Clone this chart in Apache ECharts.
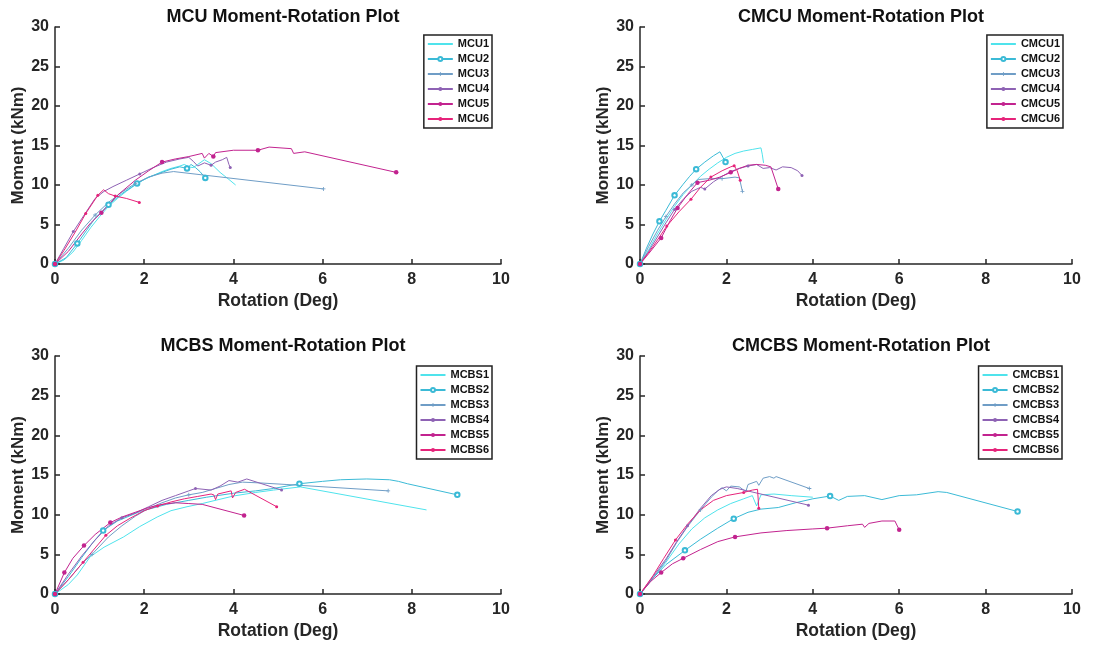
<!DOCTYPE html>
<html><head><meta charset="utf-8">
<script src="https://cdn.jsdelivr.net/npm/echarts@6/dist/echarts.min.js"></script>
<style>html,body{margin:0;padding:0;background:#fff}#c{width:1099px;height:646px}</style>
</head><body><div id="c"></div><script>
// ---------- data ----------
const titles = ['MCU Moment-Rotation Plot','CMCU Moment-Rotation Plot','MCBS Moment-Rotation Plot','CMCBS Moment-Rotation Plot'];
const xName = 'Rotation (Deg)';
const yName = 'Moment (kNm)';

const MCU1 = [[0,0],[0.2,0.5],[0.4,1.5],[0.6,3.0],[0.8,4.6],[1.0,6.0],[1.2,7.3],[1.4,8.3],[1.6,9.2],[1.8,10.0],[2.0,10.7],[2.2,11.2],[2.4,11.7],[2.6,12.1],[2.8,12.4],[2.9,12.6],[3.0,12.3],[3.1,12.2],[3.2,12.6],[3.35,13.2],[3.5,12.7],[3.7,11.6],[3.9,10.7],[4.05,10.0]];
const MCU2 = [[0,0],[0.25,0.8],[0.5,2.6],[0.7,4.2],[0.9,5.8],[1.2,7.5],[1.5,8.9],[1.84,10.2],[2.1,11.0],[2.4,11.6],[2.6,12.0],[2.8,12.3],[2.96,12.1],[3.05,12.6],[3.15,12.2],[3.25,11.7],[3.37,10.9]];
const MCU3 = [[0,0],[0.3,2.0],[0.6,4.3],[0.9,6.2],[1.2,7.8],[1.5,9.1],[1.8,10.2],[2.1,11.0],[2.4,11.5],[2.66,11.7],[6.02,9.5]];
const MCU4 = [[0,0],[0.2,2.0],[0.41,4.1],[0.7,6.6],[0.9,8.3],[1.1,9.2],[1.3,9.8],[1.6,10.6],[1.9,11.4],[2.2,12.2],[2.5,12.9],[2.8,13.3],[3.0,13.5],[3.1,13.0],[3.2,12.4],[3.35,12.8],[3.5,12.5],[3.6,12.9],[3.75,13.2],[3.85,13.5],[3.9,12.6],[3.93,12.2]];
const MCU5 = [[0,0],[0.3,1.6],[0.6,3.8],[0.8,5.2],[1.04,6.5],[1.4,8.7],[1.8,10.6],[2.1,11.8],[2.4,12.9],[2.7,13.3],[3.0,13.6],[3.3,14.0],[3.35,13.4],[3.45,14.0],[3.55,13.6],[3.6,14.1],[4.0,14.4],[4.55,14.4],[4.8,14.8],[5.3,14.6],[5.35,14.0],[5.6,14.2],[7.65,11.6]];
const MCU6 = [[0,0],[0.2,1.7],[0.45,4.0],[0.69,6.4],[0.96,8.7],[1.09,9.4],[1.2,8.9],[1.35,8.6],[1.6,8.3],[1.89,7.8]];

const CMCU1 = [[0,0],[0.2,1.8],[0.4,3.8],[0.6,5.6],[0.8,7.3],[1.0,8.8],[1.2,10.0],[1.4,11.1],[1.6,12.0],[1.8,12.8],[2.0,13.5],[2.2,14.0],[2.4,14.3],[2.6,14.5],[2.8,14.7],[2.83,13.9],[2.86,12.8]];
const CMCU2 = [[0,0],[0.15,2.0],[0.3,3.8],[0.45,5.4],[0.6,6.8],[0.8,8.7],[1.0,10.1],[1.15,11.1],[1.3,12.0],[1.5,12.9],[1.7,13.7],[1.85,14.2],[1.92,13.5],[1.98,12.9]];
const CMCU3 = [[0,0],[0.2,2.2],[0.4,4.2],[0.6,6.0],[0.8,7.6],[1.0,9.0],[1.2,10.0],[1.35,10.7],[1.6,10.8],[1.9,10.8],[2.2,11.0],[2.3,10.9],[2.37,9.2]];
const CMCU4 = [[0,0],[0.2,1.6],[0.4,3.4],[0.6,5.2],[0.8,6.9],[1.0,8.2],[1.2,9.2],[1.4,9.7],[1.5,9.5],[1.7,10.4],[1.9,11.1],[2.1,11.7],[2.3,12.1],[2.5,12.4],[2.7,12.6],[2.85,12.1],[3.0,12.2],[3.15,11.9],[3.3,12.3],[3.5,12.2],[3.65,11.8],[3.75,11.2]];
const CMCU5 = [[0,0],[0.2,1.3],[0.49,3.3],[0.7,5.5],[0.87,7.1],[1.1,8.8],[1.33,10.3],[1.6,10.6],[1.85,11.0],[2.1,11.6],[2.3,12.1],[2.5,12.5],[2.7,12.6],[2.9,12.5],[3.03,12.3],[3.2,9.5]];
const CMCU6 = [[0,0],[0.3,2.2],[0.62,4.8],[0.9,6.6],[1.18,8.2],[1.4,9.7],[1.64,11.0],[1.9,11.8],[2.1,12.3],[2.18,12.45],[2.25,11.8],[2.32,10.6]];

const MCBS1 = [[0,0],[0.3,1.2],[0.5,2.4],[0.79,4.7],[1.1,5.9],[1.54,7.2],[1.9,8.5],[2.29,9.7],[2.6,10.5],[2.96,11.0],[3.3,11.4],[3.63,11.85],[4.0,12.35],[4.5,12.8],[4.9,13.1],[5.5,13.5],[8.33,10.6]];
const MCBS2 = [[0,0],[0.3,2.2],[0.6,4.6],[0.85,6.5],[1.08,8.0],[1.4,9.2],[1.91,10.4],[2.5,11.3],[3.0,11.8],[3.4,12.2],[4.0,12.7],[4.5,13.0],[4.9,13.3],[5.48,13.9],[6.0,14.2],[6.4,14.4],[6.99,14.5],[7.5,14.4],[7.7,14.2],[7.9,13.9],[9.02,12.5]];
const MCBS3 = [[0,0],[0.3,1.8],[0.6,3.8],[0.83,5.0],[1.2,7.2],[1.5,8.6],[1.8,9.8],[2.1,10.8],[2.4,11.5],[2.7,12.1],[3.0,12.5],[3.3,12.8],[3.6,13.3],[3.9,13.8],[4.2,14.1],[4.6,14.0],[5.2,13.8],[7.47,13.0]];
const MCBS4 = [[0,0],[0.3,2.5],[0.6,4.8],[0.9,6.8],[1.2,8.6],[1.5,9.6],[1.8,10.2],[2.1,11.0],[2.4,11.8],[2.7,12.4],[3.0,13.0],[3.15,13.3],[3.5,13.1],[3.7,13.6],[3.9,14.3],[4.1,14.1],[4.3,14.5],[5.08,13.1]];
const MCBS5 = [[0,0],[0.21,2.7],[0.4,4.5],[0.65,6.1],[0.9,7.5],[1.24,9.0],[1.5,9.7],[1.8,10.3],[2.1,10.9],[2.4,11.3],[2.7,11.5],[3.0,11.4],[3.3,11.3],[4.24,9.9]];
const MCBS6 = [[0,0],[0.3,1.8],[0.63,4.0],[0.9,5.8],[1.14,7.4],[1.4,8.6],[1.7,9.6],[2.0,10.5],[2.3,11.1],[2.6,11.6],[2.9,12.0],[3.2,12.3],[3.5,12.6],[3.56,12.5],[3.6,11.9],[3.65,12.6],[3.95,13.0],[3.98,12.1],[4.05,12.8],[4.25,13.2],[4.97,11.0]];

const CMCBS1 = [[0,0],[0.3,2.0],[0.6,4.0],[0.9,6.3],[1.2,8.2],[1.5,9.6],[1.8,10.6],[2.1,11.4],[2.4,12.0],[2.6,12.4],[2.7,11.1],[2.8,12.5],[3.1,12.6],[3.5,12.4],[4.0,12.2]];
const CMCBS2 = [[0,0],[0.3,2.0],[0.6,3.7],[1.04,5.5],[1.4,6.9],[1.8,8.3],[2.17,9.5],[2.5,10.3],[2.8,10.7],[3.2,10.9],[3.6,11.5],[4.0,12.0],[4.4,12.35],[4.6,11.8],[4.8,12.3],[5.2,12.4],[5.6,11.9],[6.0,12.4],[6.4,12.5],[6.9,12.9],[7.1,12.8],[8.74,10.4]];
const CMCBS3 = [[0,0],[0.3,2.0],[0.6,4.2],[0.85,6.5],[1.1,8.5],[1.4,10.6],[1.65,12.2],[1.8,13.0],[1.9,13.4],[2.0,13.0],[2.1,13.6],[2.3,13.5],[2.45,12.9],[2.5,13.8],[2.7,14.2],[2.75,13.7],[2.85,14.6],[3.0,14.8],[3.1,14.6],[3.15,14.8],[3.92,13.3]];
const CMCBS4 = [[0,0],[0.3,2.2],[0.6,4.4],[0.85,6.6],[1.1,8.6],[1.4,10.8],[1.65,12.4],[1.85,13.2],[2.0,13.5],[2.25,13.3],[3.9,11.2]];
const CMCBS5 = [[0,0],[0.25,1.6],[0.49,2.7],[0.75,3.8],[1.0,4.5],[1.4,5.6],[1.8,6.6],[2.2,7.2],[2.8,7.7],[3.4,8.0],[4.0,8.2],[4.33,8.3],[4.8,8.6],[5.15,8.8],[5.2,8.4],[5.3,8.9],[5.6,9.2],[5.9,9.2],[6.0,8.1]];
const CMCBS6 = [[0,0],[0.3,2.3],[0.55,4.5],[0.82,6.8],[1.1,8.8],[1.4,10.6],[1.7,11.8],[2.0,12.4],[2.4,12.8],[2.6,13.1],[2.72,13.2],[2.75,10.8]];

// indices of points that carry a marker
const markerIdx = {
  MCU2:[0,2,5,7,12,16], MCU3:[0,3,6,10], MCU4:[0,2,8,16,21], MCU5:[0,4,8,14,17,22], MCU6:[0,3,4,7,9],
  CMCU2:[0,3,5,8,13], CMCU3:[0,3,6,9,12], CMCU4:[0,4,8,13,21], CMCU5:[0,2,4,6,9,15], CMCU6:[0,2,4,6,9,11],
  MCBS2:[0,4,13,20], MCBS3:[0,3,10,17], MCBS4:[0,5,11,17], MCBS5:[0,1,3,5,13], MCBS6:[0,2,4,8,20],
  CMCBS2:[0,3,6,12,21], CMCBS3:[0,5,20], CMCBS4:[0,4,10], CMCBS5:[0,2,4,7,11,18], CMCBS6:[0,3,8,11]
};

const panels = [
  {names:['MCU1','MCU2','MCU3','MCU4','MCU5','MCU6'], data:[MCU1,MCU2,MCU3,MCU4,MCU5,MCU6]},
  {names:['CMCU1','CMCU2','CMCU3','CMCU4','CMCU5','CMCU6'], data:[CMCU1,CMCU2,CMCU3,CMCU4,CMCU5,CMCU6]},
  {names:['MCBS1','MCBS2','MCBS3','MCBS4','MCBS5','MCBS6'], data:[MCBS1,MCBS2,MCBS3,MCBS4,MCBS5,MCBS6]},
  {names:['CMCBS1','CMCBS2','CMCBS3','CMCBS4','CMCBS5','CMCBS6'], data:[CMCBS1,CMCBS2,CMCBS3,CMCBS4,CMCBS5,CMCBS6]}
];

// ---------- styles ----------
const colors = ['#4FE3EC','#3BBAD6','#6F9DC6','#8E62B4','#C2238F','#E6237A'];
const plusPath = 'path://M4,0H6V4H10V6H6V10H4V6H0V4H4Z';
const symbols = ['none','emptyCircle',plusPath,'circle','circle','circle'];
const symSizes = [0,4.5,4,3,4.5,3];
const grids = [
  {left:55, top:27, width:446, height:237},
  {left:640, top:27, width:432, height:237},
  {left:55, top:356, width:446, height:238},
  {left:640, top:356, width:432, height:238}
];
const legendPos = [
  {right:607, top:35}, {right:36, top:35}, {right:607, top:366}, {right:37, top:366}
];
const font = 'Liberation Sans, Arial, sans-serif';
const ink = '#262626';

const option = {animation:false, backgroundColor:'#fff', title:[], grid:[], xAxis:[], yAxis:[], legend:[], series:[]};

panels.forEach((p, k) => {
  const g = grids[k];
  option.grid.push(g);
  option.title.push({text:titles[k], left:g.left + g.width/2, top:g.top - 24, textAlign:'center',
    textStyle:{fontFamily:font, fontWeight:'bold', fontSize:18, color:'#111'}});
  option.xAxis.push({type:'value', gridIndex:k, min:0, max:10, interval:2,
    name:xName, nameLocation:'middle', nameGap:28,
    nameTextStyle:{fontFamily:font, fontWeight:'bold', fontSize:17.5, color:ink},
    axisLine:{show:true, onZero:false, lineStyle:{color:ink, width:1.5}},
    axisTick:{show:true, inside:true, length:5, lineStyle:{color:ink, width:1.5}},
    axisLabel:{fontFamily:font, fontWeight:'bold', fontSize:16, color:ink, margin:8},
    splitLine:{show:false}});
  option.yAxis.push({type:'value', gridIndex:k, min:0, max:30, interval:5,
    name:yName, nameLocation:'middle', nameGap:26,
    nameTextStyle:{fontFamily:font, fontWeight:'bold', fontSize:17, color:ink},
    axisLine:{show:true, onZero:false, lineStyle:{color:ink, width:1.5}},
    axisTick:{show:true, inside:true, length:5, lineStyle:{color:ink, width:1.5}},
    axisLabel:{fontFamily:font, fontWeight:'bold', fontSize:16, color:ink, margin:6},
    splitLine:{show:false}});
  option.legend.push(Object.assign({
    orient:'vertical', backgroundColor:'#fff', borderColor:'#222', borderWidth:1.5, borderRadius:0,
    padding:[2,3,2,3], itemGap:1, itemWidth:25, itemHeight:5,
    textStyle:{fontFamily:font, fontWeight:'bold', fontSize:11, color:'#111', lineHeight:14},
    data:p.names.map((n,i) => i===0 ? {name:n, itemStyle:{opacity:0}} : {name:n})
  }, legendPos[k]));
  p.names.forEach((n, i) => {
    const mk = markerIdx[n] || [];
    option.series.push({
      type:'line', name:n, xAxisIndex:k, yAxisIndex:k,
      symbol:symbols[i], symbolSize:symSizes[i], showSymbol:i>0,
      color:colors[i],
      lineStyle:{width:1, color:colors[i]},
      itemStyle:{color:colors[i], borderWidth:1},
      emphasis:{disabled:true},
      data:p.data[i].map((pt, j) => mk.indexOf(j) >= 0 ? {value:pt} : {value:pt, symbol:'none'})
    });
  });
});

const chart = echarts.init(document.getElementById('c'), null, {renderer:'canvas'});
chart.setOption(option);
</script></body></html>
